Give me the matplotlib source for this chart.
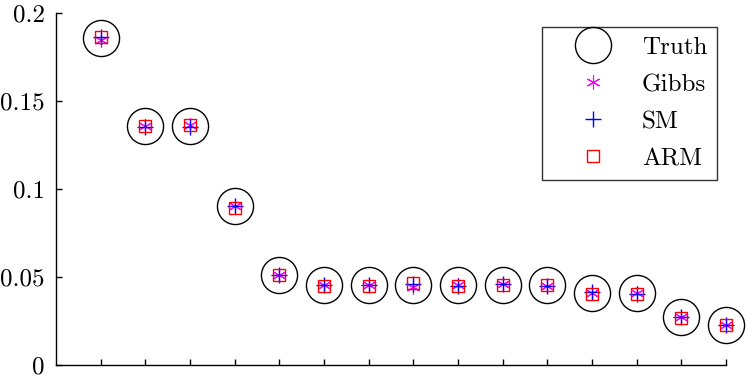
import matplotlib
matplotlib.use("Agg")
import matplotlib.pyplot as plt
import numpy as np

positions = list(range(1, 16))
truth = [0.186, 0.1356, 0.1358, 0.0905, 0.051, 0.0453, 0.0453, 0.0453, 0.0453, 0.0455, 0.0453, 0.041, 0.041, 0.0272, 0.0227]
gibbs = [0.1845, 0.1360, 0.1362, 0.0905, 0.0512, 0.0455, 0.0455, 0.0442, 0.0455, 0.0458, 0.0450, 0.0408, 0.0410, 0.0270, 0.0225]
sm = [0.1862, 0.1350, 0.1350, 0.0905, 0.0512, 0.0455, 0.0455, 0.0457, 0.0450, 0.0458, 0.0448, 0.0412, 0.0405, 0.0272, 0.0225]
arm = [0.1865, 0.1360, 0.1365, 0.0890, 0.0510, 0.0450, 0.0450, 0.0466, 0.0450, 0.0455, 0.0452, 0.0405, 0.0405, 0.0265, 0.0225]
yticks = [0, 0.05, 0.1, 0.15, 0.2]
yticklabels = ["0", "0.05", "0.1", "0.15", "0.2"]
labels = ["Truth", "Gibbs", "SM", "ARM"]

plt.rcParams['font.family'] = ['cmr10', 'DejaVu Serif']
plt.rcParams['mathtext.fontset'] = 'cm'
plt.rcParams['axes.formatter.use_mathtext'] = True

fig = plt.figure(figsize=(7.47, 3.76), dpi=100)
ax = fig.add_axes([0.075, 0.03, 0.897, 0.935])

ax.plot(positions, truth, linestyle='none', marker='o', markersize=26, markerfacecolor='none',
        markeredgecolor='black', markeredgewidth=1.0, label=labels[0], clip_on=False)
ax.plot(positions, gibbs, linestyle='none', marker=(6, 2, 0), markersize=10,
        markeredgecolor='magenta', color='magenta', markeredgewidth=0.8, label=labels[1], clip_on=False)
ax.plot(positions, sm, linestyle='none', marker='+', markersize=11,
        markeredgecolor='blue', color='blue', markeredgewidth=1.0, label=labels[2], clip_on=False)
ax.plot(positions, arm, linestyle='none', marker='s', markersize=8.5, markerfacecolor='none',
        markeredgecolor='red', markeredgewidth=1.0, label=labels[3], clip_on=False)

ax.set_xlim(0, 15)
ax.set_ylim(0, 0.2)
ax.set_xticks(positions)
ax.set_xticklabels([])
ax.set_yticks(yticks)
ax.set_yticklabels(yticklabels, fontsize=18)
ax.tick_params(direction='in', length=4.5, width=1.0)
ax.tick_params(axis='y', pad=8)
for s in ['top', 'right']:
    ax.spines[s].set_visible(False)
for s in ['left', 'bottom']:
    ax.spines[s].set_linewidth(1.0)

leg = ax.legend(loc='upper left', bbox_to_anchor=(0.725, 0.962), borderaxespad=0.0, frameon=True,
                fancybox=False, edgecolor='black', fontsize=18, handlelength=3.3,
                labelspacing=0.58, handletextpad=0.3, borderpad=0.4, numpoints=1)
leg.get_frame().set_linewidth(1.0)

fig.savefig("out.png", dpi=100)
